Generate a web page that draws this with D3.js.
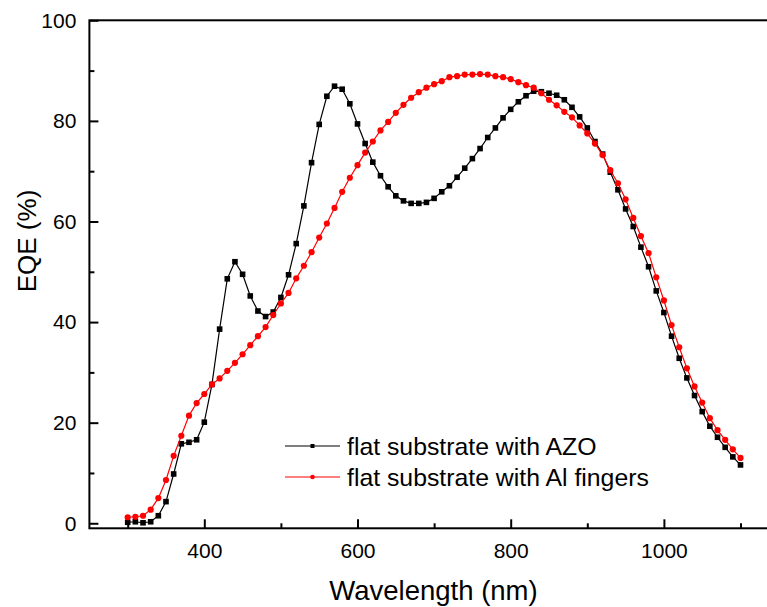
<!DOCTYPE html>
<html>
<head>
<meta charset="utf-8">
<script src="https://cdn.jsdelivr.net/npm/d3@7/dist/d3.min.js"></script>
<style>
  html, body { margin: 0; padding: 0; background: #ffffff; overflow: hidden; }
  svg { display: block; font-family: "Liberation Sans", Arial, Helvetica, sans-serif; }
</style>
</head>
<body>
<svg id="chart" width="767" height="607"></svg>
<script>
// Wavelength grid (nm)
const wavelength = [
  300, 310, 320, 330, 340, 350, 360, 370, 380, 390,
  400, 410, 420, 430, 440, 450, 460, 470, 480, 490,
  500, 510, 520, 530, 540, 550, 560, 570, 580, 590,
  600, 610, 620, 630, 640, 650, 660, 670, 680, 690,
  700, 710, 720, 730, 740, 750, 760, 770, 780, 790,
  800, 810, 820, 830, 840, 850, 860, 870, 880, 890,
  900, 910, 920, 930, 940, 950, 960, 970, 980, 990,
  1000, 1010, 1020, 1030, 1040, 1050, 1060, 1070, 1080, 1090,
  1100
];

// EQE (%) of the flat substrate with AZO
const eqeAZO = [
  0.2, 0.3, 0.1, 0.3, 1.5, 4.3, 9.8, 15.8, 16.1, 16.6,
  20.1, 27.6, 38.6, 48.6, 52.0, 49.5, 45.2, 42.2, 41.1, 42.0,
  44.9, 49.4, 55.6, 63.1, 71.7, 79.3, 84.9, 86.9, 86.3, 83.4,
  79.4, 75.5, 71.8, 69.1, 66.9, 65.1, 64.1, 63.6, 63.6, 63.8,
  64.6, 65.9, 67.1, 68.8, 70.6, 72.5, 74.5, 76.7, 78.6, 80.6,
  82.3, 83.8, 85.0, 85.9, 85.8, 85.5, 85.1, 84.2, 82.7, 80.8,
  78.6, 75.9, 73.4, 69.8, 66.3, 62.5, 59.0, 54.9, 51.0, 46.2,
  41.9, 37.2, 32.8, 28.9, 25.4, 22.2, 19.3, 17.1, 15.1, 13.2,
  11.6
];

// EQE (%) of the flat substrate with Al fingers
const eqeAlFingers = [
  1.2, 1.3, 1.5, 2.7, 5.0, 8.6, 13.4, 17.4, 21.4, 23.9,
  25.7, 27.6, 28.8, 30.3, 31.9, 33.6, 35.4, 37.2, 39.0, 41.4,
  43.7, 45.8, 48.7, 51.2, 53.9, 56.8, 59.6, 62.7, 65.9, 68.7,
  71.2, 73.7, 75.9, 78.1, 79.8, 81.6, 83.2, 84.6, 85.7, 86.6,
  87.3, 87.9, 88.7, 88.9, 89.2, 89.2, 89.3, 89.2, 88.9, 88.7,
  88.3, 87.7, 87.1, 86.6, 85.5, 84.2, 83.1, 81.8, 80.7, 79.1,
  77.5, 75.5, 73.2, 70.2, 67.6, 64.4, 60.7, 57.1, 53.7, 48.9,
  44.3, 39.4, 35.0, 30.8, 27.2, 24.0, 20.9, 18.5, 16.6, 14.7,
  13.0
];

const xMajorTicks = [400, 600, 800, 1000];
const xMinorTicks = [300, 500, 700, 900, 1100];
const yMajorTicks = [0, 20, 40, 60, 80, 100];
const yMinorTicks = [10, 30, 50, 70, 90];

const seriesNames = ["flat substrate with AZO", "flat substrate with Al fingers"];
const seriesColors = ["#000000", "#ff0000"];

const svg = d3.select("#chart");
svg.append("rect").attr("width", 767).attr("height", 607).attr("fill", "#ffffff");

const plotLeft = 89.4, plotRight = 778.8, plotTop = 20.3, plotBottom = 528.3;
const x = d3.scaleLinear().domain([250, 1150]).range([plotLeft, plotRight]);
const y = d3.scaleLinear().domain([-1, 100]).range([plotBottom, plotTop]);

const fontTick = 21;

// Minor ticks (inward, no labels)
svg.append("g")
  .attr("transform", `translate(0,${plotBottom})`)
  .call(d3.axisBottom(x).tickValues(xMinorTicks).tickSizeInner(-5).tickSizeOuter(0).tickFormat(""))
  .call(g => g.select(".domain").remove())
  .call(g => g.selectAll("line").attr("stroke", "#000").attr("stroke-width", 2));

svg.append("g")
  .attr("transform", `translate(${plotLeft},0)`)
  .call(d3.axisLeft(y).tickValues(yMinorTicks).tickSizeInner(-5).tickSizeOuter(0).tickFormat(""))
  .call(g => g.select(".domain").remove())
  .call(g => g.selectAll("line").attr("stroke", "#000").attr("stroke-width", 2));

// Major ticks with labels
svg.append("g")
  .attr("transform", `translate(0,${plotBottom})`)
  .call(d3.axisBottom(x).tickValues(xMajorTicks).tickSizeInner(-9).tickSizeOuter(0).tickPadding(15).tickFormat(d3.format("d")))
  .call(g => g.select(".domain").remove())
  .call(g => g.selectAll("line").attr("stroke", "#000").attr("stroke-width", 2))
  .call(g => g.selectAll("text").attr("fill", "#000").attr("font-size", fontTick))
  .attr("font-family", null);

svg.append("g")
  .attr("transform", `translate(${plotLeft},0)`)
  .call(d3.axisLeft(y).tickValues(yMajorTicks).tickSizeInner(-9).tickSizeOuter(0).tickPadding(13).tickFormat(d3.format("d")))
  .call(g => g.select(".domain").remove())
  .call(g => g.selectAll("line").attr("stroke", "#000").attr("stroke-width", 2))
  .call(g => g.selectAll("text").attr("fill", "#000").attr("font-size", fontTick))
  .attr("font-family", null);

// Frame
svg.append("rect")
  .attr("x", plotLeft).attr("y", plotTop)
  .attr("width", plotRight - plotLeft).attr("height", plotBottom - plotTop)
  .attr("fill", "none").attr("stroke", "#000").attr("stroke-width", 2);

// Axis titles
svg.append("text")
  .attr("x", 433.5).attr("y", 600)
  .attr("text-anchor", "middle").attr("font-size", 27.5).attr("fill", "#000")
  .text("Wavelength (nm)");

svg.append("text")
  .attr("transform", "translate(36,241) rotate(-90)")
  .attr("text-anchor", "middle").attr("font-size", 26).attr("fill", "#000")
  .text("EQE (%)");

// Data series
const seriesValues = [eqeAZO, eqeAlFingers];
const line = d3.line().x(d => x(d[0])).y(d => y(d[1]));

seriesValues.forEach((vals, i) => {
  const pts = wavelength.map((w, k) => [w, vals[k]]);
  const g = svg.append("g");
  g.append("path").datum(pts)
    .attr("d", line).attr("fill", "none")
    .attr("stroke", seriesColors[i]).attr("stroke-width", 1.2);
  if (i === 0) {
    g.selectAll("rect").data(pts).join("rect")
      .attr("x", d => x(d[0]) - 2.8).attr("y", d => y(d[1]) - 2.8)
      .attr("width", 5.6).attr("height", 5.6)
      .attr("fill", seriesColors[i]);
  } else {
    g.selectAll("circle").data(pts).join("circle")
      .attr("cx", d => x(d[0])).attr("cy", d => y(d[1])).attr("r", 3.1)
      .attr("fill", seriesColors[i]);
  }
});

// Legend
const legend = svg.append("g");
const legendRows = [446, 477];
seriesNames.forEach((name, i) => {
  const ry = legendRows[i];
  legend.append("line")
    .attr("x1", 285).attr("x2", 340).attr("y1", ry).attr("y2", ry)
    .attr("stroke", seriesColors[i]).attr("stroke-width", 1.2);
  if (i === 0) {
    legend.append("rect").attr("x", 312.5 - 2).attr("y", ry - 2)
      .attr("width", 4).attr("height", 4).attr("fill", seriesColors[i]);
  } else {
    legend.append("circle").attr("cx", 312.5).attr("cy", ry).attr("r", 2.3)
      .attr("fill", seriesColors[i]);
  }
  legend.append("text")
    .attr("x", 347).attr("y", ry + 9)
    .attr("font-size", 24.8).attr("fill", "#000")
    .text(name);
});
</script>
</body>
</html>
